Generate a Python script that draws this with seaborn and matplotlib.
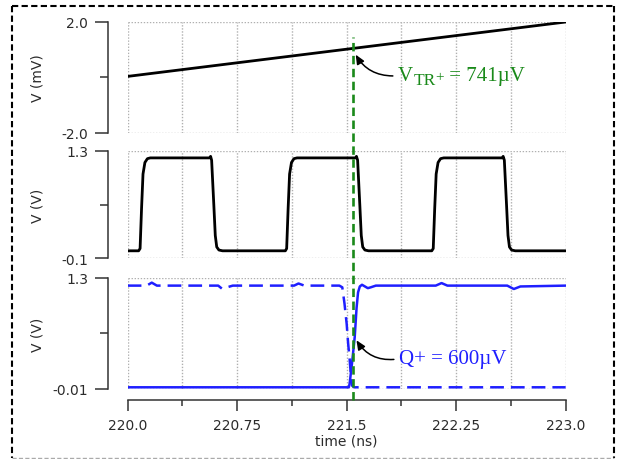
import numpy as np
import pandas as pd
import matplotlib
matplotlib.use("Agg")
import matplotlib.pyplot as plt
from matplotlib.lines import Line2D
from matplotlib.transforms import blended_transform_factory
import seaborn as sns

# ---------------------------------------------------------------- data
time_major_ticks = [220.0, 220.75, 221.5, 222.25, 223.0]
time_tick_labels = ["220.0", "220.75", "221.5", "222.25", "223.0"]
time_minor_ticks = [220.375, 221.125, 221.875, 222.625]

# differential input ramp (mV)
ramp_t = [220.0, 223.0]
ramp_v = [0.04, 2.0]

# clock (V)
clk_t = [220.0, 220.075, 220.085, 220.095, 220.105, 220.118, 220.135, 220.155,
         220.56, 220.568, 220.575, 220.59, 220.60, 220.61, 220.625, 220.65,
         221.08, 221.089, 221.099, 221.109, 221.122, 221.139, 221.16,
         221.56, 221.567, 221.575, 221.59, 221.60, 221.61, 221.625, 221.65,
         222.083, 222.093, 222.103, 222.113, 222.126, 222.143, 222.165,
         222.565, 222.572, 222.58, 222.595, 222.605, 222.615, 222.63, 222.655,
         223.0]
clk_v = [0.0, 0.0, 0.03, 0.55, 1.0, 1.15, 1.2, 1.21,
         1.21, 1.23, 1.18, 0.6, 0.2, 0.05, 0.01, 0.0,
         0.0, 0.03, 0.55, 1.0, 1.15, 1.2, 1.21,
         1.21, 1.23, 1.18, 0.6, 0.2, 0.05, 0.01, 0.0,
         0.0, 0.03, 0.55, 1.0, 1.15, 1.2, 1.21,
         1.21, 1.23, 1.18, 0.6, 0.2, 0.05, 0.01, 0.0,
         0.0]

# comparator output Q+ (V), solid
q_t = [220.0, 221.515, 221.52, 221.537, 221.555, 221.568, 221.578, 221.59,
       221.605, 221.625, 221.645, 221.665, 221.7, 222.11, 222.15, 222.19,
       222.6, 222.645, 222.69, 223.0]
q_v = [0.01, 0.01, 0.05, 0.3, 0.6, 0.95, 1.13, 1.2,
       1.22, 1.2, 1.18, 1.19, 1.21, 1.21, 1.24, 1.21,
       1.21, 1.17, 1.2, 1.21]

# complementary output Q- (V), dashed
qb_t = [220.0, 220.13, 220.165, 220.2, 220.62, 220.645, 220.68, 220.72,
        221.14, 221.17, 221.21, 221.45, 221.47, 221.485, 221.5, 221.51,
        221.52, 221.53, 221.537, 221.55, 223.0]
qb_v = [1.21, 1.21, 1.245, 1.21, 1.21, 1.175, 1.19, 1.21,
        1.21, 1.235, 1.21, 1.21, 1.19, 1.0, 0.76, 0.53,
        0.35, 0.12, 0.03, 0.01, 0.01]

t_trigger = 221.54
q_mark_index = 4
vtr_parts = ["V", "TR", "+", " = 741µV"]
q_label = "Q+ = 600µV"

# ---------------------------------------------------------------- style
sns.set_theme(style="ticks")
plt.rcParams.update({
    "font.family": ["DejaVu Sans"],
    "font.size": 10,
    "axes.edgecolor": "#333333",
    "axes.linewidth": 1.1,
    "xtick.color": "#333333",
    "ytick.color": "#333333",
    "xtick.labelcolor": "#2b2b2b",
    "ytick.labelcolor": "#2b2b2b",
    "axes.labelcolor": "#2b2b2b",
})

GREEN = "#1a8a1a"
BLUE = "#1f1fff"
SERIF = "Liberation Serif"
GRID = dict(color="#b0b0b0", linestyle=(0, (1, 1.2)), linewidth=1.0)

fig = plt.figure(figsize=(6.18, 4.6), dpi=100)
L, W = 0.2066, 0.7087
ax1 = fig.add_axes([L, 0.7087, W, 0.2413])
ax2 = fig.add_axes([L, 0.4359, W, 0.2337], sharex=ax1)
ax3 = fig.add_axes([L, 0.1522, W, 0.2413], sharex=ax1)

ramp_df = pd.DataFrame({"t": ramp_t, "v": ramp_v})
clk_df = pd.DataFrame({"t": clk_t, "v": clk_v})
q_df = pd.DataFrame({"t": q_t, "v": q_v})
qb_df = pd.DataFrame({"t": qb_t, "v": qb_v})

sns.lineplot(data=ramp_df, x="t", y="v", ax=ax1, color="black", lw=2.0,
             estimator=None, sort=False)
sns.lineplot(data=clk_df, x="t", y="v", ax=ax2, color="black", lw=2.0,
             estimator=None, sort=False)
sns.lineplot(data=qb_df, x="t", y="v", ax=ax3, color=BLUE, lw=1.8,
             estimator=None, sort=False, linestyle=(0, (5.5, 2.8)))
sns.lineplot(data=q_df, x="t", y="v", ax=ax3, color=BLUE, lw=1.8,
             estimator=None, sort=False)

panels = [
    (ax1, (-2.0, 2.0), ["-2.0", "2.0"], 0.0, "V (mV)"),
    (ax2, (-0.1, 1.3), ["-0.1", "1.3"], 0.6, "V (V)"),
    (ax3, (-0.01, 1.3), ["-0.01", "1.3"], 0.645, "V (V)"),
]
for ax, (lo, hi), labels, mid, ylab in panels:
    ax.set_xlim(220.0, 223.0)
    ax.set_ylim(lo, hi)
    ax.set_yticks([lo, hi])
    ax.set_yticklabels(labels)
    ax.set_yticks([mid], minor=True)
    ax.set_xticks(time_major_ticks)
    ax.set_xticks(time_minor_ticks, minor=True)
    ax.grid(axis="x", which="both", **GRID)
    ax.grid(axis="y", which="major", **GRID)
    ax.set_ylabel(ylab, fontsize=10)
    ax.yaxis.set_label_coords(-0.19, 0.5)
    ax.set_xlabel("")
    ax.tick_params(axis="y", which="major", length=9.5, width=1.1, pad=5,
                   labelsize=10)
    ax.tick_params(axis="y", which="minor", length=5.5, width=1.1)
    sns.despine(ax=ax, offset={"left": 14, "bottom": 8})

for ax in (ax1, ax2):
    ax.spines["bottom"].set_visible(False)
    ax.tick_params(axis="x", which="both", bottom=False, labelbottom=False)

ax3.set_xticklabels(time_tick_labels)
ax3.tick_params(axis="x", which="major", length=8, width=1.1, pad=5,
                labelsize=10)
ax3.tick_params(axis="x", which="minor", length=4, width=1.1)
ax3.set_xlabel("time (ns)", fontsize=10)
ax3.xaxis.set_label_coords(0.5, -0.40)

# trigger instant spanning all three panels
trig_tf = blended_transform_factory(ax3.transData, fig.transFigure)
fig.add_artist(Line2D([t_trigger, t_trigger], [0.128, 0.918],
                      transform=trig_tf, color=GREEN, lw=1.9,
                      linestyle=(0, (3.2, 1.7)), clip_on=False, zorder=5))

arrow_kw = dict(arrowstyle="-|>,head_length=0.5,head_width=0.22",
                color="black", lw=1.1, mutation_scale=11,
                connectionstyle="arc3,rad=-0.35", relpos=(0.0, 0.5),
                shrinkA=1.5)

# threshold label: V with a TR subscript carrying a + mark
v_txt = ax1.annotate(vtr_parts[0],
                     xy=(t_trigger, np.interp(t_trigger, ramp_t, ramp_v)),
                     xytext=(221.853, -0.1), textcoords="data",
                     ha="left", va="baseline", color=GREEN, fontsize=15,
                     family=SERIF, arrowprops=dict(arrow_kw, shrinkB=5),
                     zorder=6, annotation_clip=False)
tr_txt = ax1.annotate(vtr_parts[1], xy=(1, 0), xycoords=v_txt,
                      xytext=(0, -1.8), textcoords="offset points",
                      ha="left", va="bottom", color=GREEN, fontsize=12.5,
                      family=SERIF, zorder=6, annotation_clip=False)
plus_txt = ax1.annotate(vtr_parts[2], xy=(1, 1), xycoords=tr_txt,
                        xytext=(0, 1.0), textcoords="offset points",
                        ha="left", va="top", color=GREEN, fontsize=11,
                        family=SERIF, zorder=6, annotation_clip=False)
ax1.annotate(vtr_parts[3], xy=(1, 0), xycoords=(plus_txt, v_txt),
             ha="left", va="bottom", color=GREEN, fontsize=15,
             family=SERIF, zorder=6, annotation_clip=False)

ax3.annotate(q_label,
             xy=(q_t[q_mark_index], q_v[q_mark_index]),
             xytext=(221.86, 0.293), textcoords="data",
             ha="left", va="baseline", color=BLUE, fontsize=15,
             family=SERIF, arrowprops=dict(arrow_kw, shrinkB=2.5),
             zorder=6, annotation_clip=False)

# dashed frame around the figure
frame = [
    ([0.0194, 0.9935], [0.9858, 0.9858], "black", 1.5),
    ([0.0194, 0.0194], [0.9858, 0.0015], "black", 1.5),
    ([0.9935, 0.9935], [0.9858, 0.0015], "black", 1.5),
    ([0.0194, 0.9935], [0.0015, 0.0015], "#aaaaaa", 1.0),
]
for xs, ys, c, lw in frame:
    fig.add_artist(Line2D(xs, ys, transform=fig.transFigure, color=c, lw=lw,
                          linestyle=(0, (3, 1.6)), clip_on=False))

fig.savefig("out.png", dpi=100, facecolor="white")
